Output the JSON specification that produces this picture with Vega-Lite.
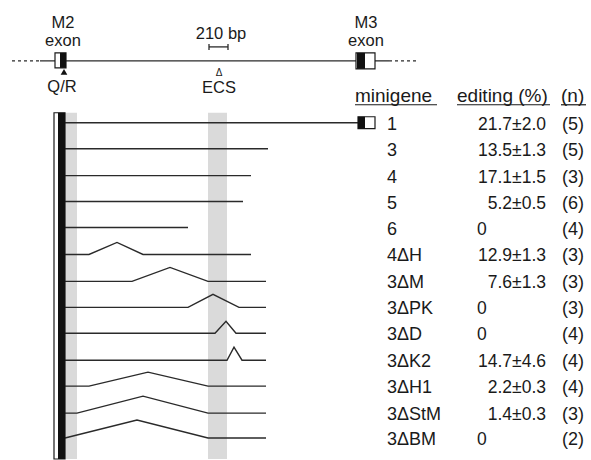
{
  "$schema": "https://vega.github.io/schema/vega-lite/v6.json",
  "width": 591,
  "height": 460,
  "padding": 0,
  "autosize": {"type": "fit", "contains": "padding"},
  "background": "#ffffff",
  "config": {"view": {"stroke": null}, "text": {"font": "Liberation Sans", "color": "#1a1a1a"}},
  "datasets": {
    "rects": [
      {"x": 65, "x2": 77, "y": 113, "y2": 460, "part": "band"},
      {"x": 208, "x2": 227, "y": 113, "y2": 460, "part": "band"},
      {"x": 54, "x2": 65, "y": 113, "y2": 460, "part": "box"},
      {"x": 58, "x2": 65, "y": 113, "y2": 460, "part": "black"},
      {"x": 55, "x2": 66, "y": 53, "y2": 68, "part": "box"},
      {"x": 60, "x2": 66, "y": 53, "y2": 68, "part": "black"},
      {"x": 356, "x2": 375, "y": 53, "y2": 69, "part": "box"},
      {"x": 357, "x2": 365, "y": 53, "y2": 69, "part": "black"},
      {"x": 358, "x2": 375, "y": 117, "y2": 129, "part": "box"},
      {"x": 358, "x2": 365, "y": 117, "y2": 129, "part": "black"}
    ],
    "hsegs": [
      {"x": 40, "x2": 356, "y": 61, "style": "solid"},
      {"x": 375, "x2": 389, "y": 61, "style": "solid"},
      {"x": 209, "x2": 228, "y": 47, "style": "solid"},
      {"x": 12, "x2": 40, "y": 61, "style": "dashed"},
      {"x": 389, "x2": 416, "y": 61, "style": "dashed"},
      {"x": 355, "x2": 437, "y": 105, "style": "under"},
      {"x": 457, "x2": 550, "y": 105, "style": "under"},
      {"x": 561, "x2": 586, "y": 105, "style": "under"}
    ],
    "vsegs": [
      {"x": 209, "y": 44, "y2": 50},
      {"x": 228, "y": 44, "y2": 50}
    ],
    "paths": [
      {"id": "1", "seq": 1, "x": 65, "y": 123}, {"id": "1", "seq": 2, "x": 358, "y": 123},
      {"id": "3", "seq": 1, "x": 65, "y": 149}, {"id": "3", "seq": 2, "x": 268, "y": 149},
      {"id": "4", "seq": 1, "x": 65, "y": 176}, {"id": "4", "seq": 2, "x": 251, "y": 176},
      {"id": "5", "seq": 1, "x": 65, "y": 202}, {"id": "5", "seq": 2, "x": 243, "y": 202},
      {"id": "6", "seq": 1, "x": 65, "y": 228}, {"id": "6", "seq": 2, "x": 188, "y": 228},
      {"id": "4dH", "seq": 1, "x": 65, "y": 255}, {"id": "4dH", "seq": 2, "x": 89, "y": 255}, {"id": "4dH", "seq": 3, "x": 117, "y": 243}, {"id": "4dH", "seq": 4, "x": 143, "y": 255}, {"id": "4dH", "seq": 5, "x": 251, "y": 255},
      {"id": "3dM", "seq": 1, "x": 65, "y": 282}, {"id": "3dM", "seq": 2, "x": 132, "y": 282}, {"id": "3dM", "seq": 3, "x": 170, "y": 268}, {"id": "3dM", "seq": 4, "x": 208, "y": 282}, {"id": "3dM", "seq": 5, "x": 266, "y": 282},
      {"id": "3dPK", "seq": 1, "x": 65, "y": 308}, {"id": "3dPK", "seq": 2, "x": 188, "y": 308}, {"id": "3dPK", "seq": 3, "x": 213, "y": 295}, {"id": "3dPK", "seq": 4, "x": 239, "y": 308}, {"id": "3dPK", "seq": 5, "x": 266, "y": 308},
      {"id": "3dD", "seq": 1, "x": 65, "y": 334}, {"id": "3dD", "seq": 2, "x": 215, "y": 334}, {"id": "3dD", "seq": 3, "x": 226, "y": 322}, {"id": "3dD", "seq": 4, "x": 236, "y": 334}, {"id": "3dD", "seq": 5, "x": 266, "y": 334},
      {"id": "3dK2", "seq": 1, "x": 65, "y": 361}, {"id": "3dK2", "seq": 2, "x": 227, "y": 361}, {"id": "3dK2", "seq": 3, "x": 234, "y": 348}, {"id": "3dK2", "seq": 4, "x": 242, "y": 361}, {"id": "3dK2", "seq": 5, "x": 266, "y": 361},
      {"id": "3dH1", "seq": 1, "x": 65, "y": 387}, {"id": "3dH1", "seq": 2, "x": 89, "y": 387}, {"id": "3dH1", "seq": 3, "x": 148, "y": 373}, {"id": "3dH1", "seq": 4, "x": 208, "y": 387}, {"id": "3dH1", "seq": 5, "x": 266, "y": 387},
      {"id": "3dStM", "seq": 1, "x": 65, "y": 414}, {"id": "3dStM", "seq": 2, "x": 77, "y": 414}, {"id": "3dStM", "seq": 3, "x": 143, "y": 397}, {"id": "3dStM", "seq": 4, "x": 208, "y": 414}, {"id": "3dStM", "seq": 5, "x": 266, "y": 414},
      {"id": "3dBM", "seq": 1, "x": 65, "y": 439}, {"id": "3dBM", "seq": 2, "x": 137, "y": 421}, {"id": "3dBM", "seq": 3, "x": 208, "y": 439}, {"id": "3dBM", "seq": 4, "x": 266, "y": 439}
    ],
    "labels": [
      {"x": 63, "y": 28, "text": "M2"},
      {"x": 63, "y": 46, "text": "exon"},
      {"x": 62, "y": 92, "text": "Q/R"},
      {"x": 221, "y": 39, "text": "210 bp"},
      {"x": 219, "y": 93, "text": "ECS"},
      {"x": 366, "y": 28, "text": "M3"},
      {"x": 366, "y": 46, "text": "exon"}
    ],
    "headers": [
      {"x": 355, "y": 102, "text": "minigene"},
      {"x": 457, "y": 102, "text": "editing (%)"},
      {"x": 561, "y": 102, "text": "(n)"}
    ],
    "triangles": [
      {"x": 64, "y": 72, "kind": "Q/R"}
    ],
    "ecs": [
      {"x": 219, "y": 76, "text": "Δ"}
    ],
    "columns": [
      {"column": "name", "x": 387},
      {"column": "editing", "x": 546},
      {"column": "n", "x": 573}
    ],
    "minigenes": [
      {"name": "1", "editing": "21.7±2.0", "n": "(5)", "y": 123},
      {"name": "3", "editing": "13.5±1.3", "n": "(5)", "y": 149},
      {"name": "4", "editing": "17.1±1.5", "n": "(3)", "y": 176},
      {"name": "5", "editing": "5.2±0.5", "n": "(6)", "y": 202},
      {"name": "6", "editing": "0", "n": "(4)", "y": 228},
      {"name": "4ΔH", "editing": "12.9±1.3", "n": "(3)", "y": 255},
      {"name": "3ΔM", "editing": "7.6±1.3", "n": "(3)", "y": 282},
      {"name": "3ΔPK", "editing": "0", "n": "(3)", "y": 308},
      {"name": "3ΔD", "editing": "0", "n": "(4)", "y": 334},
      {"name": "3ΔK2", "editing": "14.7±4.6", "n": "(4)", "y": 361},
      {"name": "3ΔH1", "editing": "2.2±0.3", "n": "(4)", "y": 387},
      {"name": "3ΔStM", "editing": "1.4±0.3", "n": "(3)", "y": 414},
      {"name": "3ΔBM", "editing": "0", "n": "(2)", "y": 439}
    ]
  },
  "encoding": {
    "x": {"field": "x", "type": "quantitative", "scale": {"domain": [0, 591], "nice": false, "zero": false}, "axis": null},
    "y": {"field": "y", "type": "quantitative", "scale": {"domain": [0, 460], "nice": false, "zero": false, "reverse": true}, "axis": null}
  },
  "layer": [
    {
      "data": {"name": "rects"},
      "transform": [{"filter": "datum.part === 'band'"}],
      "mark": {"type": "rect", "fill": "#d6d6d6", "opacity": 0.9},
      "encoding": {"x2": {"field": "x2"}, "y2": {"field": "y2"}}
    },
    {
      "data": {"name": "hsegs"},
      "transform": [{"filter": "datum.style === 'solid'"}],
      "mark": {"type": "rule", "color": "#2a2a2a", "strokeWidth": 1.3},
      "encoding": {"x2": {"field": "x2"}}
    },
    {
      "data": {"name": "hsegs"},
      "transform": [{"filter": "datum.style === 'dashed'"}],
      "mark": {"type": "rule", "color": "#2a2a2a", "strokeWidth": 1.2, "strokeDash": [3, 3]},
      "encoding": {"x2": {"field": "x2"}}
    },
    {
      "data": {"name": "hsegs"},
      "transform": [{"filter": "datum.style === 'under'"}],
      "mark": {"type": "rule", "color": "#1a1a1a", "strokeWidth": 1.2},
      "encoding": {"x2": {"field": "x2"}}
    },
    {
      "data": {"name": "vsegs"},
      "mark": {"type": "rule", "color": "#2a2a2a", "strokeWidth": 1.3},
      "encoding": {"y2": {"field": "y2"}}
    },
    {
      "data": {"name": "paths"},
      "mark": {"type": "line", "color": "#2a2a2a", "strokeWidth": 1.4, "interpolate": "linear"},
      "encoding": {"detail": {"field": "id"}, "order": {"field": "seq", "type": "quantitative"}}
    },
    {
      "data": {"name": "rects"},
      "transform": [{"filter": "datum.part === 'box'"}],
      "mark": {"type": "rect", "fill": "#ffffff", "stroke": "#1a1a1a", "strokeWidth": 1.2},
      "encoding": {"x2": {"field": "x2"}, "y2": {"field": "y2"}}
    },
    {
      "data": {"name": "rects"},
      "transform": [{"filter": "datum.part === 'black'"}],
      "mark": {"type": "rect", "fill": "#111111"},
      "encoding": {"x2": {"field": "x2"}, "y2": {"field": "y2"}}
    },
    {
      "data": {"name": "triangles"},
      "mark": {"type": "point", "shape": "triangle-up", "filled": true, "color": "#111111", "size": 45, "opacity": 1},
      "encoding": {}
    },
    {
      "data": {"name": "ecs"},
      "mark": {"type": "text", "fontSize": 10, "align": "center", "baseline": "alphabetic"},
      "encoding": {"text": {"field": "text"}}
    },
    {
      "data": {"name": "labels"},
      "mark": {"type": "text", "fontSize": 16.5, "align": "center", "baseline": "alphabetic"},
      "encoding": {"text": {"field": "text"}}
    },
    {
      "data": {"name": "headers"},
      "mark": {"type": "text", "fontSize": 19, "align": "left", "baseline": "alphabetic"},
      "encoding": {"text": {"field": "text"}}
    },
    {
      "data": {"name": "minigenes"},
      "transform": [
        {"fold": ["name", "editing", "n"], "as": ["column", "cell"]},
        {"lookup": "column", "from": {"data": {"name": "columns"}, "key": "column", "fields": ["x"]}}
      ],
      "layer": [
        {
          "transform": [{"filter": "datum.column === 'name'"}],
          "mark": {"type": "text", "fontSize": 18, "align": "left", "baseline": "alphabetic", "dy": 7},
          "encoding": {"text": {"field": "cell", "type": "nominal"}}
        },
        {
          "transform": [{"filter": "datum.column === 'editing' && datum.cell !== '0'"}],
          "mark": {"type": "text", "fontSize": 17.5, "align": "right", "baseline": "alphabetic", "dy": 7},
          "encoding": {"text": {"field": "cell", "type": "nominal"}}
        },
        {
          "transform": [{"filter": "datum.column === 'editing' && datum.cell === '0'"}],
          "mark": {"type": "text", "fontSize": 17.5, "align": "left", "baseline": "alphabetic", "dy": 7, "dx": -69},
          "encoding": {"text": {"field": "cell", "type": "nominal"}}
        },
        {
          "transform": [{"filter": "datum.column === 'n'"}],
          "mark": {"type": "text", "fontSize": 18, "align": "center", "baseline": "alphabetic", "dy": 7},
          "encoding": {"text": {"field": "cell", "type": "nominal"}}
        }
      ]
    }
  ]
}
